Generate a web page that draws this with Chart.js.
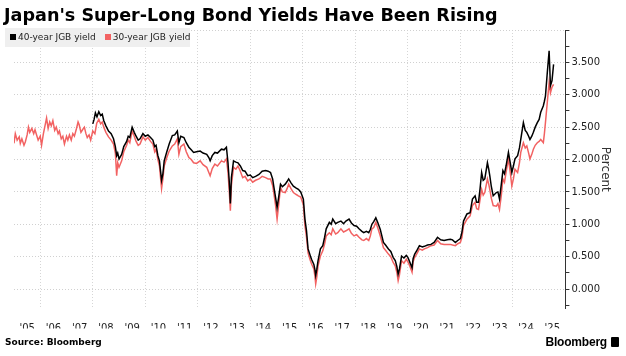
<!DOCTYPE html>
<html><head><meta charset="utf-8">
<script src="https://cdn.jsdelivr.net/npm/chart.js@4"></script>
<style>
html,body{margin:0;padding:0;background:#fff;}
#wrap{position:relative;width:626px;height:356px;overflow:hidden;font-family:"DejaVu Sans",sans-serif;}
#title{position:absolute;left:4px;top:4.5px;font-weight:bold;font-size:17.6px;line-height:20px;color:#000;white-space:nowrap;}
canvas{position:absolute;left:0;top:0;}
#legend{position:absolute;left:5px;top:28px;height:19px;width:185px;background:#efefef;font-size:9px;line-height:19px;color:#222;white-space:nowrap;}
#legend .sw{display:inline-block;width:6px;height:6px;margin:0 2px 0 5px;vertical-align:0px;}
#source{position:absolute;left:5px;top:336px;font-weight:bold;font-size:9px;line-height:12px;color:#000;}
#logo{position:absolute;right:19px;top:335px;font-family:"Liberation Sans",sans-serif;font-size:12px;line-height:14px;color:#000;font-weight:600;letter-spacing:-0.2px;}
#icon{position:absolute;left:611px;top:337px;width:8px;height:10px;background:#000;border-radius:1px;}
</style></head>
<body><div id="wrap">
<canvas id="c" width="626" height="356"></canvas>
<div id="title">Japan's Super-Long Bond Yields Have Been Rising</div>
<div id="legend"><span class="sw" style="background:#000"></span>40-year JGB yield<span class="sw" style="background:#f26262;margin-left:9px"></span>30-year JGB yield</div>
<div id="source">Source: Bloomberg</div>
<div id="logo">Bloomberg</div>
<div id="icon"></div>
</div>
<script>
const years = [2005,2006,2007,2008,2009,2010,2011,2012,2013,2014,2015,2016,2017,2018,2019,2020,2021,2022,2023,2024,2025];
const yearLabels = ["'05","'06","'07","'08","'09","'10","'11","'12","'13","'14","'15","'16","'17","'18","'19","'20","'21","'22","'23","'24","'25"];
const yTickValues = [-0.25,0,0.25,0.5,0.75,1,1.25,1.5,1.75,2,2.25,2.5,2.75,3,3.25,3.5,3.75,4];

const dates30 = [2005.00,2005.05,2005.12,2005.20,2005.24,2005.30,2005.38,2005.43,2005.50,2005.55,2005.60,2005.68,2005.75,2005.80,2005.86,2005.92,
2006.00,2006.05,2006.12,2006.18,2006.24,2006.30,2006.36,2006.42,2006.48,2006.55,2006.61,2006.68,2006.73,2006.80,2006.86,2006.92,
2007.00,2007.05,2007.11,2007.18,2007.24,2007.30,2007.38,2007.44,2007.48,2007.55,2007.61,2007.68,2007.74,2007.79,2007.86,2007.92,
2008.00,2008.08,2008.15,2008.23,2008.30,2008.36,2008.42,2008.50,2008.60,2008.70,2008.79,2008.86,2008.91,2008.95,
2009.00,2009.10,2009.18,2009.29,2009.35,2009.41,2009.50,2009.58,2009.65,2009.73,2009.80,2009.91,
2010.00,2010.10,2010.20,2010.29,2010.36,2010.41,2010.48,2010.54,2010.62,2010.67,2010.72,2010.82,2010.91,
2011.03,2011.12,2011.22,2011.28,2011.35,2011.47,2011.56,2011.66,2011.75,2011.84,2011.95,
2012.09,2012.20,2012.34,2012.42,2012.47,2012.55,2012.65,2012.75,2012.90,
2013.00,2013.09,2013.15,2013.20,2013.24,2013.28,2013.36,2013.45,2013.53,2013.62,2013.71,2013.80,2013.90,
2014.00,2014.09,2014.20,2014.33,2014.45,2014.58,2014.68,2014.77,2014.85,2014.90,2014.96,
2015.02,2015.08,2015.15,2015.22,2015.33,2015.40,2015.46,2015.55,2015.64,2015.75,2015.83,2015.92,
2016.02,2016.08,2016.14,2016.20,2016.28,2016.33,2016.42,2016.46,2016.49,2016.53,2016.58,2016.67,2016.76,2016.83,2016.89,
2017.01,2017.08,2017.14,2017.25,2017.33,2017.45,2017.55,2017.64,2017.76,2017.85,2017.95,
2018.05,2018.14,2018.25,2018.32,2018.42,2018.51,2018.57,2018.63,2018.70,2018.78,2018.85,2018.95,
2019.07,2019.15,2019.26,2019.35,2019.44,2019.52,2019.58,2019.63,2019.68,2019.76,2019.85,2019.94,
2020.00,2020.07,2020.16,2020.20,2020.26,2020.35,2020.44,2020.55,2020.63,2020.75,2020.88,
2021.00,2021.13,2021.25,2021.38,2021.50,2021.62,2021.70,2021.81,2021.90,
2022.00,2022.06,2022.12,2022.25,2022.37,2022.46,2022.56,2022.62,2022.69,2022.75,2022.81,2022.87,2022.93,
2023.03,2023.08,2023.12,2023.18,2023.25,2023.37,2023.43,2023.49,2023.56,2023.62,2023.68,2023.74,2023.83,2023.90,2023.96,
2024.02,2024.08,2024.18,2024.25,2024.30,2024.40,2024.47,2024.53,2024.60,2024.65,2024.72,2024.78,2024.85,2024.93,
2025.00,2025.06,2025.16,2025.20,2025.24,2025.31,2025.38,2025.43,2025.49,2025.55];
const yield30 = [2.25,2.40,2.30,2.35,2.25,2.32,2.22,2.27,2.38,2.50,2.42,2.48,2.40,2.46,2.38,2.30,
2.36,2.22,2.40,2.52,2.64,2.48,2.58,2.52,2.60,2.45,2.50,2.40,2.44,2.32,2.36,2.24,
2.36,2.30,2.38,2.30,2.40,2.36,2.48,2.58,2.54,2.42,2.46,2.50,2.40,2.34,2.38,2.30,
2.44,2.40,2.56,2.62,2.55,2.58,2.50,2.42,2.35,2.30,2.24,2.10,1.75,1.95,
1.88,1.98,2.12,2.22,2.30,2.26,2.44,2.36,2.28,2.22,2.24,2.35,
2.30,2.34,2.28,2.24,2.12,2.16,2.00,1.90,1.55,1.70,1.90,2.03,2.13,
2.21,2.24,2.32,2.08,2.20,2.24,2.12,2.03,2.00,1.95,1.94,
1.98,1.92,1.88,1.80,1.75,1.86,1.93,1.90,1.98,
1.96,2.01,1.80,1.50,1.21,1.60,1.88,1.85,1.90,1.82,1.72,1.74,1.67,
1.70,1.65,1.68,1.70,1.74,1.72,1.70,1.70,1.60,1.47,1.30,
1.08,1.30,1.57,1.50,1.49,1.55,1.62,1.55,1.49,1.46,1.44,1.42,
1.30,0.98,0.80,0.56,0.45,0.39,0.31,0.20,0.08,0.18,0.36,0.51,0.59,0.70,0.82,
0.87,0.84,0.93,0.85,0.87,0.93,0.88,0.90,0.93,0.86,0.82,
0.84,0.80,0.76,0.75,0.78,0.75,0.82,0.93,0.95,1.03,0.95,0.82,
0.64,0.60,0.54,0.50,0.41,0.36,0.26,0.13,0.22,0.44,0.40,0.46,
0.42,0.36,0.26,0.42,0.49,0.55,0.62,0.60,0.62,0.64,0.67,
0.68,0.75,0.70,0.69,0.69,0.69,0.68,0.67,0.70,
0.72,0.80,0.98,1.08,1.13,1.29,1.34,1.24,1.23,1.38,1.54,1.45,1.49,
1.70,1.62,1.54,1.40,1.29,1.28,1.32,1.23,1.45,1.70,1.65,1.80,2.01,1.80,1.59,
1.70,1.85,1.80,1.95,2.11,2.26,2.18,2.21,2.10,2.01,2.08,2.16,2.22,2.26,
2.28,2.31,2.26,2.40,2.57,2.88,3.19,3.03,3.12,3.16];

const dates40 = [2008.00,2008.05,2008.10,2008.16,2008.23,2008.30,2008.36,2008.42,2008.50,2008.60,2008.70,2008.79,2008.86,2008.91,2008.95,
2009.00,2009.10,2009.18,2009.29,2009.35,2009.41,2009.50,2009.58,2009.65,2009.73,2009.80,2009.91,
2010.00,2010.10,2010.20,2010.29,2010.36,2010.41,2010.48,2010.54,2010.62,2010.67,2010.72,2010.82,2010.91,
2011.03,2011.12,2011.22,2011.28,2011.35,2011.47,2011.56,2011.66,2011.75,2011.84,2011.95,
2012.09,2012.20,2012.34,2012.42,2012.47,2012.55,2012.65,2012.75,2012.90,
2013.00,2013.09,2013.15,2013.20,2013.24,2013.28,2013.36,2013.45,2013.53,2013.62,2013.71,2013.80,2013.90,
2014.00,2014.09,2014.20,2014.33,2014.45,2014.58,2014.68,2014.77,2014.85,2014.90,2014.96,
2015.02,2015.08,2015.15,2015.22,2015.33,2015.40,2015.46,2015.55,2015.64,2015.75,2015.83,2015.92,
2016.02,2016.08,2016.14,2016.20,2016.28,2016.33,2016.42,2016.46,2016.49,2016.53,2016.58,2016.67,2016.76,2016.83,2016.89,
2017.01,2017.08,2017.14,2017.25,2017.33,2017.45,2017.55,2017.64,2017.76,2017.85,2017.95,
2018.05,2018.14,2018.25,2018.32,2018.42,2018.51,2018.57,2018.63,2018.70,2018.78,2018.85,2018.95,
2019.07,2019.15,2019.26,2019.35,2019.44,2019.52,2019.58,2019.63,2019.68,2019.76,2019.85,2019.94,
2020.00,2020.07,2020.16,2020.20,2020.26,2020.35,2020.44,2020.55,2020.63,2020.75,2020.88,
2021.00,2021.13,2021.25,2021.38,2021.50,2021.62,2021.70,2021.81,2021.90,
2022.00,2022.06,2022.12,2022.25,2022.37,2022.46,2022.56,2022.62,2022.69,2022.75,2022.81,2022.87,2022.93,
2023.03,2023.08,2023.12,2023.18,2023.25,2023.37,2023.43,2023.49,2023.56,2023.62,2023.68,2023.74,2023.83,2023.90,2023.96,
2024.02,2024.08,2024.18,2024.25,2024.30,2024.40,2024.47,2024.53,2024.60,2024.65,2024.72,2024.78,2024.85,2024.93,
2025.00,2025.06,2025.16,2025.20,2025.24,2025.31,2025.38,2025.43,2025.49,2025.55];
const yield40 = [2.55,2.62,2.72,2.66,2.74,2.68,2.70,2.60,2.52,2.44,2.40,2.32,2.20,2.06,2.10,
2.01,2.08,2.20,2.28,2.36,2.34,2.50,2.42,2.36,2.30,2.32,2.40,
2.36,2.38,2.34,2.30,2.20,2.22,2.06,1.98,1.68,1.78,1.98,2.12,2.24,
2.37,2.38,2.44,2.26,2.36,2.34,2.26,2.19,2.15,2.11,2.12,
2.13,2.10,2.08,2.03,1.98,2.06,2.11,2.10,2.16,
2.15,2.19,1.95,1.65,1.32,1.72,1.98,1.96,1.95,1.90,1.83,1.82,1.75,
1.76,1.72,1.74,1.77,1.82,1.83,1.82,1.80,1.70,1.57,1.42,
1.26,1.42,1.62,1.58,1.62,1.66,1.70,1.64,1.59,1.56,1.54,1.50,
1.39,1.08,0.90,0.62,0.52,0.46,0.38,0.30,0.21,0.30,0.44,0.62,0.67,0.80,0.93,
1.03,1.00,1.08,1.01,1.03,1.05,1.01,1.05,1.08,1.02,0.98,
0.97,0.93,0.89,0.87,0.89,0.87,0.92,1.00,1.04,1.10,1.03,0.92,
0.72,0.68,0.62,0.58,0.49,0.44,0.35,0.23,0.31,0.51,0.48,0.52,
0.49,0.42,0.33,0.47,0.54,0.60,0.67,0.65,0.66,0.68,0.69,
0.72,0.80,0.76,0.75,0.76,0.77,0.76,0.72,0.75,
0.78,0.88,1.05,1.16,1.18,1.39,1.44,1.34,1.34,1.55,1.80,1.68,1.70,
1.95,1.85,1.75,1.58,1.44,1.49,1.50,1.39,1.62,1.83,1.78,1.90,2.11,1.95,1.80,
1.90,2.01,2.06,2.18,2.31,2.57,2.45,2.42,2.36,2.31,2.36,2.42,2.50,2.57,
2.62,2.73,2.83,2.90,2.98,3.34,3.68,3.14,3.22,3.47];

const toPoints = (xs, ys) => xs.map((x, i) => ({x: x, y: ys[i]}));
const isMult = (v, s) => Math.abs(v / s - Math.round(v / s)) < 1e-6;

new Chart(document.getElementById('c'), {
  type: 'line',
  data: {
    datasets: [
      {label: '40-year JGB yield', data: toPoints(dates40, yield40), borderColor: '#000000', borderWidth: 1.5, pointRadius: 0, tension: 0},
      {label: '30-year JGB yield', data: toPoints(dates30, yield30), borderColor: '#f26262', borderWidth: 1.5, pointRadius: 0, tension: 0}
    ]
  },
  options: {
    responsive: false, animation: false, devicePixelRatio: 1,
    layout: {padding: {left: 3.6, top: 30, right: 10, bottom: 27.5}},
    plugins: {legend: {display: false}, tooltip: {enabled: false}},
    scales: {
      x: {
        type: 'linear', min: 2005, max: 2026,
        afterBuildTicks: s => { const t = []; for (let v = 2005; v <= 2026.001; v += 0.5) t.push({value: v}); s.ticks = t; },
        afterFit: s => { s.height = 20; },
        grid: {
          color: c => (c.tick && isMult(c.tick.value, 2) && c.tick.value > 2005 && c.tick.value < 2026) ? '#d6d6d6' : 'rgba(0,0,0,0)',
          drawTicks: false, lineWidth: 1
        },
        border: {display: false, dash: [1, 2]},
        ticks: {
          autoSkip: false, maxRotation: 0, minRotation: 0, padding: 14, color: '#222',
          font: {family: 'DejaVu Sans', size: 10},
          callback: v => { const i = years.indexOf(Math.round((v - 0.5) * 2) / 2); return (!isMult(v, 1) && i >= 0) ? yearLabels[i] : ''; }
        }
      },
      y: {
        position: 'right', min: -0.3, max: 4.0,
        afterBuildTicks: s => { s.ticks = yTickValues.map(v => ({value: v})); },
        afterFit: s => { s.width = 50.6; },
        grid: {
          color: c => (c.tick && isMult(c.tick.value, 0.5) && c.tick.value >= 0) ? '#d0d0d0' : 'rgba(0,0,0,0)',
          tickColor: '#333', tickLength: 4, lineWidth: 1, tickWidth: 1
        },
        border: {display: true, color: '#333', width: 1, dash: [1, 2]},
        ticks: {
          autoSkip: false, padding: 2, color: '#222',
          font: {family: 'DejaVu Sans', size: 10},
          callback: v => (isMult(v, 0.5) && v < 3.99) ? v.toFixed(3) : ''
        },
        title: {display: true, text: 'Percent', color: '#333', font: {family: 'DejaVu Sans', size: 12}, padding: {top: 4, bottom: 0}}
      }
    }
  }
});
</script>
</body></html>
